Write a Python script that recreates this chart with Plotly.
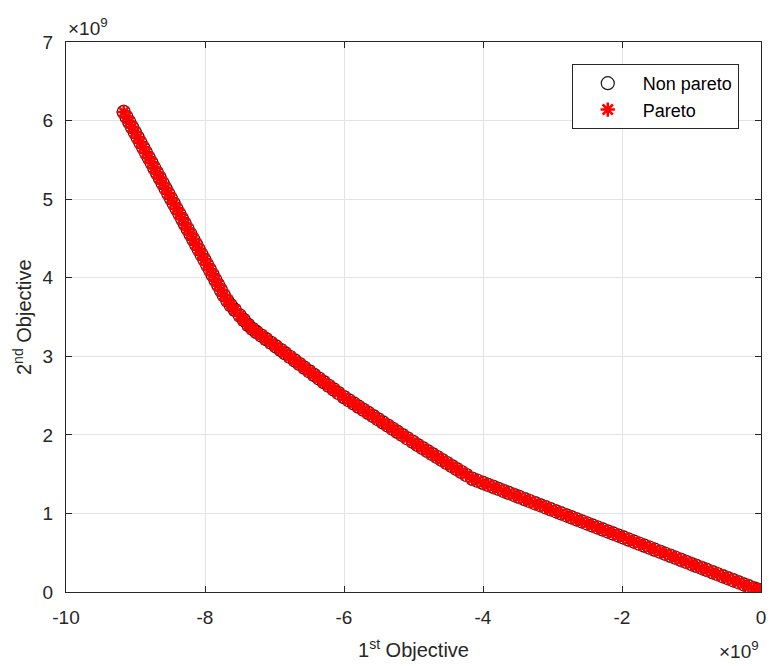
import plotly.graph_objects as go

# Objective values, in units of 1e9
obj1 = [-9.17, -9.13, -9.09, -9.05, -9.01, -8.97, -8.93, -8.89, -8.85, -8.81,
        -8.77, -8.73, -8.69, -8.65, -8.61, -8.57, -8.53, -8.49, -8.45, -8.41,
        -8.37, -8.33, -8.29, -8.25, -8.21, -8.17, -8.13, -8.09, -8.05, -8.01,
        -7.97, -7.93, -7.89, -7.85, -7.81, -7.77, -7.73,
        -7.68, -7.63, -7.57, -7.50, -7.44, -7.38, -7.32,
        -7.26, -7.19, -7.12, -7.05, -6.98, -6.91, -6.85,
        -6.78, -6.71, -6.64, -6.57, -6.50, -6.43, -6.36, -6.29, -6.22, -6.15, -6.08, -6.00,
        -5.93, -5.86, -5.79, -5.72, -5.65, -5.58, -5.51, -5.44, -5.37, -5.30, -5.23, -5.16,
        -5.09, -5.01, -4.94,
        -4.87, -4.80, -4.73, -4.66, -4.59, -4.52, -4.45, -4.38, -4.31, -4.24, -4.15,
        -4.08, -4.00, -3.93, -3.85, -3.78, -3.70, -3.63, -3.55, -3.48, -3.40, -3.33,
        -3.25, -3.18, -3.10, -3.03, -2.95, -2.88, -2.80, -2.73, -2.65, -2.58, -2.50,
        -2.43, -2.35, -2.28, -2.20, -2.13, -2.05, -1.98, -1.90, -1.83, -1.75, -1.68,
        -1.60, -1.53, -1.45, -1.38, -1.30, -1.23, -1.15, -1.08, -1.00, -0.93, -0.85,
        -0.78, -0.70, -0.63, -0.55, -0.48, -0.40, -0.33, -0.25, -0.18, -0.10, -0.05, -0.02]

obj2 = [6.110, 6.045, 5.982, 5.916, 5.851, 5.786, 5.721, 5.656, 5.590, 5.527,
        5.462, 5.397, 5.333, 5.268, 5.203, 5.138, 5.073, 5.008, 4.944, 4.879,
        4.814, 4.749, 4.684, 4.620, 4.555, 4.490, 4.425, 4.360, 4.296, 4.231,
        4.166, 4.101, 4.036, 3.972, 3.907, 3.842, 3.777,
        3.710, 3.650, 3.590, 3.520, 3.460, 3.400, 3.350,
        3.310, 3.264, 3.218, 3.172, 3.126, 3.080, 3.040,
        2.994, 2.948, 2.902, 2.855, 2.809, 2.763, 2.717, 2.671, 2.625, 2.579, 2.533, 2.480,
        2.440, 2.400, 2.359, 2.319, 2.279, 2.239, 2.198, 2.158, 2.118, 2.078, 2.037, 1.997,
        1.957, 1.911, 1.870,
        1.832, 1.794, 1.756, 1.718, 1.680, 1.642, 1.603, 1.565, 1.527, 1.489, 1.440,
        1.416, 1.388, 1.364, 1.337, 1.313, 1.285, 1.261, 1.234, 1.210, 1.182, 1.158,
        1.130, 1.106, 1.079, 1.055, 1.027, 1.003, 0.976, 0.952, 0.924, 0.900, 0.872,
        0.848, 0.821, 0.797, 0.769, 0.745, 0.718, 0.694, 0.666, 0.642, 0.614, 0.590,
        0.563, 0.539, 0.511, 0.487, 0.460, 0.436, 0.408, 0.384, 0.356, 0.332, 0.305,
        0.281, 0.253, 0.229, 0.201, 0.177, 0.150, 0.126, 0.098, 0.074, 0.046, 0.029, 0.020]

x_ticks = [-10, -8, -6, -4, -2, 0]
y_ticks = [0, 1, 2, 3, 4, 5, 6, 7]

FONT = "Liberation Sans, Arial, sans-serif"
AX = "#262626"

fig = go.Figure()
fig.add_trace(go.Scatter(
    x=obj1, y=obj2, mode="markers", name="Non pareto",
    marker=dict(symbol="circle-open", size=13, color="#1a1a1a", line=dict(width=1.2, color="#1a1a1a")),
))
fig.add_trace(go.Scatter(
    x=obj1, y=obj2, mode="markers", name="Pareto",
    marker=dict(symbol="asterisk-open", size=12, color="#ff0000", line=dict(width=2.5, color="#ff0000")),
))

axis_common = dict(
    showline=True, linecolor=AX, linewidth=1, mirror="ticks",
    ticks="inside", ticklen=6, tickcolor=AX, ticklabelstandoff=8,
    ticklabeloverflow="allow",
    showgrid=True, gridcolor="#e3e3e3", gridwidth=1, zeroline=False,
    tickfont=dict(family=FONT, size=19, color=AX),
)

fig.update_layout(
    width=771, height=666,
    margin=dict(l=66, r=5, t=42, b=74),
    paper_bgcolor="white", plot_bgcolor="white",
    font=dict(family=FONT, color=AX),
    xaxis=dict(range=[-10, 0], tickvals=x_ticks, ticktext=[str(v) for v in x_ticks], **axis_common),
    yaxis=dict(range=[0, 7], tickvals=y_ticks, ticktext=[str(v) for v in y_ticks], **axis_common),
    legend=dict(x=0.968, y=0.96, xanchor="right", yanchor="top",
                bgcolor="white", bordercolor=AX, borderwidth=1,
                font=dict(family=FONT, size=18, color="#000000"),
                itemwidth=60, tracegroupgap=0),
    showlegend=True,
)

# axis titles
fig.add_annotation(text="1<sup>st</sup> Objective", xref="paper", yref="paper",
                   x=0.5, y=0.0, xanchor="center", yanchor="middle", yshift=-56,
                   showarrow=False, font=dict(family=FONT, size=20, color=AX))
fig.add_annotation(text="2<sup>nd</sup> Objective", xref="paper", yref="paper",
                   x=0.0, y=0.5, xanchor="center", yanchor="middle", xshift=-44, textangle=-90,
                   showarrow=False, font=dict(family=FONT, size=20, color=AX))

# exponent labels
fig.add_annotation(text="\u00d710<sup>9</sup>", xref="paper", yref="paper",
                   x=0.0, y=1.0, xanchor="left", yanchor="bottom", yshift=1,
                   showarrow=False, font=dict(family=FONT, size=19, color=AX))
fig.add_annotation(text="\u00d710<sup>9</sup>", xref="paper", yref="paper",
                   x=1.0, y=0.0, xanchor="right", yanchor="middle", yshift=-58,
                   showarrow=False, font=dict(family=FONT, size=19, color=AX))

fig.write_html("out.html", config={"displayModeBar": False},
               post_script="document.body.style.margin='0';")
